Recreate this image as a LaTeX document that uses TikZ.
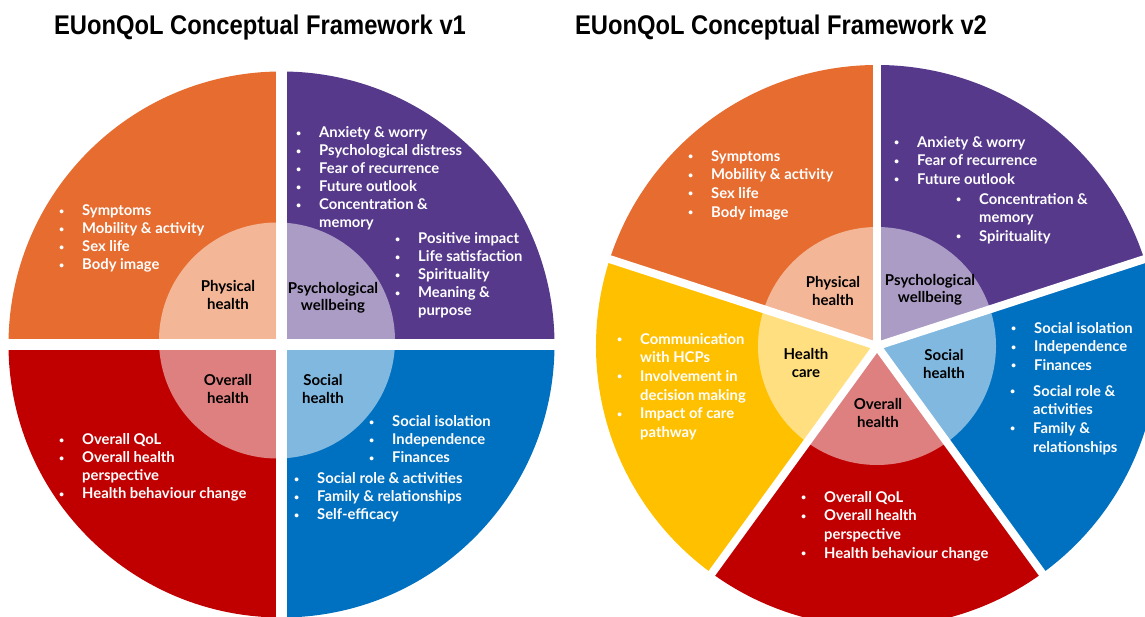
\documentclass[tikz,border=0pt]{standalone}
\usepackage{fontspec}
\setmainfont{Lato}
\newfontfamily\titlefont{Liberation Sans}

\definecolor{physc}{RGB}{230,108,48}
\definecolor{psyc}{RGB}{86,57,139}
\definecolor{socc}{RGB}{0,112,192}
\definecolor{allc}{RGB}{192,0,0}
\definecolor{carec}{RGB}{255,192,0}

% bullet line and its wrapped continuation
\newcommand\dotmark{\raisebox{1.6pt}{\scalebox{0.6}{\textbullet}}}
\newcommand\itm[1]{\strut\makebox[23pt][l]{\dotmark}#1}
\newcommand\more[1]{\strut\hspace*{23pt}#1}

\begin{document}
\begin{tikzpicture}[x=1pt, y=1pt,
    hub/.style={
        align=center,
        inner sep=0pt,
        font=\fontsize{15}{17.5}\selectfont\bfseries
    },
    items/.style={
        anchor=north west,
        align=left,
        inner sep=0pt,
        text=white,
        font=\fontsize{14.8}{18}\selectfont\bfseries
    },
    itemsb/.style={items, font=\fontsize{14.8}{18.6}\selectfont\bfseries},
    heading/.style={anchor=base, font=\titlefont\fontsize{27}{30}\selectfont\bfseries},
    gapa/.style={draw=white, line width=11pt},
    gapb/.style={draw=white, line width=8pt}
]
\useasboundingbox (0,0) rectangle (1145,617);
\clip (0,0) rectangle (1145,617);

\node[heading] (title1) at (260,582) {\scalebox{0.88}[1]{EUonQoL Conceptual Framework v1}};
\node[heading] (title2) at (781,582) {\scalebox{0.88}[1]{EUonQoL Conceptual Framework v2}};

% Framework v1: four quadrants
\coordinate (c1) at (281.5,272.5);
\coordinate (c1in) at (277,276.5);

\fill[physc] (c1) -- ++(90:273) arc[start angle=90, end angle=180, radius=273] -- cycle;
\fill[allc] (c1) -- ++(180:273) arc[start angle=180, end angle=270, radius=273] -- cycle;
\fill[socc] (c1) -- ++(270:273) arc[start angle=270, end angle=360, radius=273] -- cycle;
\fill[psyc] (c1) -- ++(0:273) arc[start angle=0, end angle=90, radius=273] -- cycle;

\fill[physc!50] (c1in) -- ++(90:118) arc[start angle=90, end angle=180, radius=118] -- cycle;
\fill[allc!50] (c1in) -- ++(180:118) arc[start angle=180, end angle=270, radius=118] -- cycle;
\fill[socc!50] (c1in) -- ++(270:118) arc[start angle=270, end angle=360, radius=118] -- cycle;
\fill[psyc!50] (c1in) -- ++(0:118) arc[start angle=0, end angle=90, radius=118] -- cycle;

\draw[gapa] (c1) ++(0,280) -- ++(0,-560);
\draw[gapa] (c1) ++(-280,0) -- ++(560,0);

\node[hub] (phys1) at (228,322) {Physical\\health};
\node[hub] (psy1) at (333,319) {Psychological\\wellbeing};
\node[hub] (all1) at (228,228) {Overall\\health};
\node[hub] (soc1) at (323,228) {Social\\health};

\node[items] (physlist1) at (59,414) {\itm{Symptoms}\\\itm{Mobility \& activity}\\\itm{Sex life}\\\itm{Body image}};
\node[items] (psylist1a) at (296,492) {\itm{Anxiety \& worry}\\\itm{Psychological distress}\\\itm{Fear of recurrence}\\\itm{Future outlook}\\\itm{Concentration \&}\\\more{memory}};
\node[items] (psylist1b) at (395,386) {\itm{Positive impact}\\\itm{Life satisfaction}\\\itm{Spirituality}\\\itm{Meaning \&}\\\more{purpose}};
\node[items] (alllist1) at (59,185) {\itm{Overall QoL}\\\itm{Overall health}\\\more{perspective}\\\itm{Health behaviour change}};
\node[items] (soclist1a) at (369,203) {\itm{Social isolation}\\\itm{Independence}\\\itm{Finances}};
\node[items] (soclist1b) at (294,146) {\itm{Social role \& activities}\\\itm{Family \& relationships}\\\itm{Self-efficacy}};

% Framework v2: five sectors
\coordinate (c2) at (877,271);

\fill[physc] (c2) -- ++(90:281) arc[start angle=90, end angle=162, radius=281] -- cycle;
\fill[carec] (c2) -- ++(162:281) arc[start angle=162, end angle=234, radius=281] -- cycle;
\fill[allc] (c2) -- ++(234:281) arc[start angle=234, end angle=306, radius=281] -- cycle;
\fill[socc] (c2) -- ++(306:281) arc[start angle=306, end angle=378, radius=281] -- cycle;
\fill[psyc] (c2) -- ++(18:281) arc[start angle=18, end angle=90, radius=281] -- cycle;

\fill[physc!50] (c2) -- ++(90:119) arc[start angle=90, end angle=162, radius=119] -- cycle;
\fill[carec!50] (c2) -- ++(162:119) arc[start angle=162, end angle=234, radius=119] -- cycle;
\fill[allc!50] (c2) -- ++(234:119) arc[start angle=234, end angle=306, radius=119] -- cycle;
\fill[socc!50] (c2) -- ++(306:119) arc[start angle=306, end angle=378, radius=119] -- cycle;
\fill[psyc!50] (c2) -- ++(18:119) arc[start angle=18, end angle=90, radius=119] -- cycle;

\draw[gapb] (c2) -- ++(90:290);
\draw[gapb] (c2) -- ++(162:290);
\draw[gapb] (c2) -- ++(234:290);
\draw[gapb] (c2) -- ++(306:290);
\draw[gapb] (c2) -- ++(18:290);

\node[hub] (phys2) at (833,326) {Physical\\health};
\node[hub] (psy2) at (930,327) {Psychological\\wellbeing};
\node[hub] (care2) at (806,254) {Health\\care};
\node[hub] (soc2) at (944,253) {Social\\health};
\node[hub] (all2) at (878,204) {Overall\\health};

\node[itemsb] (physlist2) at (688,469) {\itm{Symptoms}\\\itm{Mobility \& activity}\\\itm{Sex life}\\\itm{Body image}};
\node[itemsb] (psylist2a) at (894,483) {\itm{Anxiety \& worry}\\\itm{Fear of recurrence}\\\itm{Future outlook}};
\node[itemsb] (psylist2b) at (956,426) {\itm{Concentration \&}\\\more{memory}\\\itm{Spirituality}};
\node[itemsb] (carelist2) at (617,286) {\itm{Communication}\\\more{with HCPs}\\\itm{Involvement in}\\\more{decision making}\\\itm{Impact of care}\\\more{pathway}};
\node[itemsb] (soclist2a) at (1011,297) {\itm{Social isolation}\\\itm{Independence}\\\itm{Finances}};
\node[itemsb] (soclist2b) at (1010,234) {\itm{Social role \&}\\\more{activities}\\\itm{Family \&}\\\more{relationships}};
\node[itemsb] (alllist2) at (801,128) {\itm{Overall QoL}\\\itm{Overall health}\\\more{perspective}\\\itm{Health behaviour change}};

\end{tikzpicture}
\end{document}
